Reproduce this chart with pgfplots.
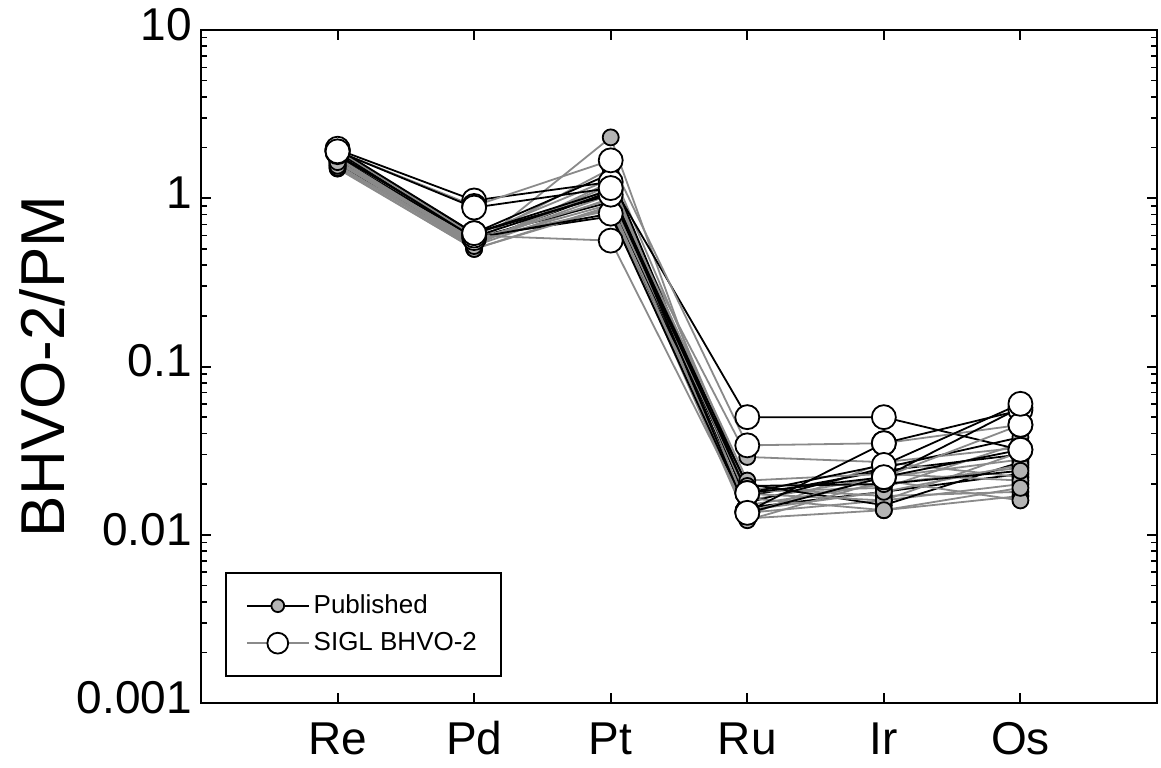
\documentclass[border=0pt]{standalone}
\usepackage{fontspec}
\setmainfont{Liberation Sans}
\usepackage{pgfplots}
\pgfplotsset{compat=1.18}

\definecolor{pubfill}{HTML}{B4B4B4}
\definecolor{publine}{HTML}{8A8A8A}

\pgfplotsset{
  pub/.style={forget plot, color=publine, line width=0.9pt, mark=*, mark size=4pt,
    mark options={draw=black, fill=pubfill, line width=0.9pt}},
  pubk/.style={pub, color=black},
  sigl/.style={forget plot, color=black, line width=0.9pt, mark=*, mark size=6pt,
    mark options={draw=black, fill=white, line width=0.9pt}},
  siglg/.style={sigl, color=publine},
}

\begin{document}
\begin{tikzpicture}
\path[use as bounding box] (-100.5pt,-32pt) rectangle (480pt,351.5pt);
\begin{axis}[
    scale only axis,
    width=478pt, height=336.5pt,
    ymode=log,
    xmin=0, xmax=7,
    ymin=0.001, ymax=10,
    xtick={1,2,3,4,5,6},
    xticklabels={Re,Pd,Pt,Ru,Ir,Os},
    ytick={0.001,0.01,0.1,1,10},
    yticklabels={0.001,0.01,0.1,1,10},
    tick align=inside,
    axis line style={line width=1.1pt},
    major tick style={line width=1pt, black},
    minor tick style={line width=0.8pt, black},
    major tick length=5pt,
    minor tick length=3pt,
    tick label style={font=\fontsize{23}{26}\selectfont},
    /pgf/number format/assume math mode=true,
    typeset ticklabels with strut,
    ylabel={BHVO-2/PM},
    every axis y label/.style={at={(axis description cs:-0.166,0.5)}, rotate=90,
      anchor=center, font=\fontsize{31}{34}\selectfont},
    yticklabel style={xshift=-1pt},
    xticklabel style={yshift=-4pt},
    legend style={at={(axis description cs:0.025,0.039)}, anchor=south west,
      draw=black, line width=1pt, font=\fontsize{13}{16}\selectfont,
      inner xsep=10pt, inner ysep=9pt, row sep=4pt},
    legend cell align=left,
    legend image code/.code={
      \draw[#1] (0pt,0pt) -- (31pt,0pt);
      \draw[#1, mark repeat=1] plot coordinates {(15.5pt,0pt)};
    },
]
% published data (Re, Pd, Pt, Ru, Ir, Os)
\addplot[pub]  coordinates {(1,1.50) (2,0.50) (3,0.90) (4,0.0125) (5,0.0140) (6,0.017)};
\addplot[pub]  coordinates {(1,1.55) (2,0.52) (3,1.00) (4,0.0135) (5,0.0160) (6,0.020)};
\addplot[pubk] coordinates {(1,1.60) (2,0.55) (3,1.10) (4,0.0145) (5,0.0180) (6,0.023)};
\addplot[pub]  coordinates {(1,1.65) (2,0.57) (3,0.85) (4,0.0150) (5,0.0200) (6,0.025)};
\addplot[pub]  coordinates {(1,1.70) (2,0.53) (3,1.20) (4,0.0160) (5,0.0220) (6,0.028)};
\addplot[pubk] coordinates {(1,1.75) (2,0.58) (3,0.95) (4,0.0170) (5,0.0240) (6,0.030)};
\addplot[pub]  coordinates {(1,1.80) (2,0.60) (3,1.30) (4,0.0180) (5,0.0190) (6,0.035)};
\addplot[pub]  coordinates {(1,1.58) (2,0.51) (3,2.30) (4,0.0130) (5,0.0270) (6,0.022)};
\addplot[pub]  coordinates {(1,1.62) (2,0.56) (3,1.50) (4,0.0190) (5,0.0170) (6,0.018)};
\addplot[pubk] coordinates {(1,1.68) (2,0.59) (3,0.78) (4,0.0200) (5,0.0150) (6,0.027)};
\addplot[pub]  coordinates {(1,1.72) (2,0.54) (3,1.05) (4,0.0290) (5,0.0270) (6,0.033)};
\addplot[pub]  coordinates {(1,1.52) (2,0.50) (3,0.88) (4,0.0122) (5,0.0210) (6,0.016)};
\addplot[pubk] coordinates {(1,1.78) (2,0.62) (3,1.40) (4,0.0155) (5,0.0250) (6,0.038)};
\addplot[pub]  coordinates {(1,1.66) (2,0.57) (3,0.98) (4,0.0175) (5,0.0160) (6,0.031)};
\addplot[pub]  coordinates {(1,1.56) (2,0.53) (3,1.15) (4,0.0210) (5,0.0230) (6,0.021)};
\addplot[pub]  coordinates {(1,1.74) (2,0.55) (3,0.92) (4,0.0140) (5,0.0180) (6,0.026)};
\addplot[pub]  coordinates {(1,1.64) (2,0.52) (3,1.25) (4,0.0165) (5,0.0140) (6,0.019)};
\addplot[pubk] coordinates {(1,1.82) (2,0.59) (3,1.08) (4,0.0195) (5,0.0200) (6,0.024)};
% SIGL BHVO-2
\addplot[sigl]  coordinates {(1,1.95) (2,0.97) (3,1.25) (4,0.0500) (5,0.0500) (6,0.032)};
\addplot[siglg] coordinates {(1,1.90) (2,0.90) (3,1.68) (4,0.0340) (5,0.0350) (6,0.045)};
\addplot[sigl]  coordinates {(1,1.92) (2,0.62) (3,1.12) (4,0.0177) (5,0.0220) (6,0.057)};
\addplot[sigl]  coordinates {(1,1.88) (2,0.58) (3,0.81) (4,0.0137) (5,0.0350) (6,0.055)};
\addplot[siglg] coordinates {(1,1.93) (2,0.60) (3,0.56) (4,0.0137) (5,0.0220) (6,0.045)};
\addplot[sigl]  coordinates {(1,1.97) (2,0.62) (3,1.05) (4,0.0177) (5,0.0260) (6,0.060)};
\addplot[sigl]  coordinates {(1,1.90) (2,0.88) (3,1.15) (4,0.0135) (5,0.0220) (6,0.032)};
% legend
\addlegendimage{black, line width=0.9pt, mark=*, mark size=3.2pt,
  mark options={draw=black, fill=pubfill, line width=0.9pt}}
\addlegendentry{Published}
\addlegendimage{publine, line width=0.9pt, mark=*, mark size=5.2pt,
  mark options={draw=black, fill=white, line width=0.9pt}}
\addlegendentry{SIGL BHVO-2}
\end{axis}
\end{tikzpicture}
\end{document}
